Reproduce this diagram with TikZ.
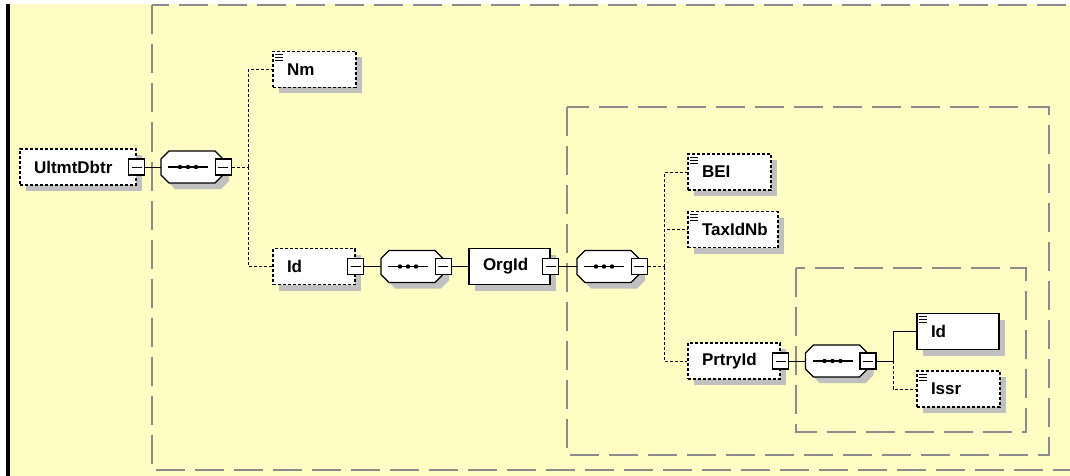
\documentclass[tikz,border=0pt]{standalone}
\usepackage{fontspec}
\setmainfont{Liberation Sans}
\usepackage{tikz}
\usetikzlibrary{shadows,calc}

\definecolor{schemabg}{RGB}{255,252,196}
\definecolor{grpgray}{RGB}{140,140,140}
\definecolor{shadowgray}{RGB}{192,192,192}

\begin{document}
\begin{tikzpicture}[
  x=0.5pt,
  y=-0.5pt,
  font=\bfseries\fontsize{8.5}{10}\selectfont,
  elem/.style={
    rectangle,
    draw=black,
    line width=0.6pt,
    fill=white,
    minimum height=18pt,
    inner xsep=7pt,
    inner ysep=0pt,
    text width=#1,
    align=left,
    drop shadow={
      shadow xshift=3pt,
      shadow yshift=-3pt,
      opacity=1,
      fill=shadowgray
    }
  },
  optelem/.style={
    elem=#1,
    dash pattern=on 1.5pt off 1pt
  },
  seq/.style={
    rectangle,
    minimum width=31pt,
    minimum height=16pt,
    inner sep=0pt
  },
  minusbox/.style={
    rectangle,
    draw=black,
    line width=0.6pt,
    fill=white,
    minimum size=8pt,
    inner sep=0pt,
    path picture={
      \draw[line width=0.5pt] ([xshift=1.5pt]path picture bounding box.west)
        -- ([xshift=-1.5pt]path picture bounding box.east);
    }
  },
  grp/.style={
    draw=grpgray,
    line width=1pt,
    dash pattern=on 14.5pt off 5pt
  },
  conn/.style={
    line width=0.5pt,
    draw=black
  },
  optconn/.style={
    conn,
    dash pattern=on 1.5pt off 1pt
  }
]

\useasboundingbox (0,0) rectangle (1070,476);
\clip (0,0) rectangle (1070,476);

\fill[white] (0,0) rectangle (1070,476);
\fill[schemabg] (10,4) rectangle (1070,476);
\fill[black] (6,4) rectangle (10,476);

% groups
\draw[grp] (151.5,5.5) rectangle (1100,469.5);
\draw[grp] (567,107) rectangle (1049,455);
\draw[grp] (795.5,268) rectangle (1026,432);

% UltmtDbtr
\node[optelem=44pt] (ud) at (78,167) {UltmtDbtr};
\node[minusbox] (udm) at (ud.east) {};
\node[seq] (s1) at (192,167) {};
\coordinate (j1) at (248,167);

\node[optelem=27.5pt] (nm) at (314.5,69.5) {Nm};
\node[optelem=27pt] (id) at (314,266.5) {Id};
\node[minusbox] (idm) at (id.east) {};
\node[seq] (s2) at (412,266.5) {};

% OrgId
\node[elem=26.5pt] (org) at (509.5,266.5) {OrgId};
\node[minusbox] (orgm) at (org.east) {};
\node[seq] (s3) at (608,266.5) {};
\coordinate (j2) at (664,266.5);

\node[optelem=27.5pt] (bei) at (729.5,172) {BEI};
\node[optelem=31pt] (tax) at (733,229.5) {TaxIdNb};
\node[optelem=32pt] (pid) at (734,361) {PrtryId};
\node[minusbox] (pidm) at (pid.east) {};
\node[seq] (s4) at (836.5,361) {};
\coordinate (j3) at (893,361);

\node[elem=27pt] (id2) at (958,331.5) {Id};
\node[optelem=27.5pt] (issr) at (958.5,389) {Issr};

% sequence compositors
\foreach \s in {s1,s2,s3,s4} {
  \begin{scope}[shift={(\s.center)}]
    \fill[shadowgray] (-17,-10) -- (29,-10) -- (37,-2) -- (37,14)
      -- (29,22) -- (-17,22) -- (-25,14) -- (-25,-2) -- cycle;
    \draw[line width=0.6pt, fill=white] (-23,-16) -- (23,-16) -- (31,-8)
      -- (31,8) -- (23,16) -- (-23,16) -- (-31,8) -- (-31,-8) -- cycle;
    \draw[line width=0.6pt] (-24,0) -- (16,0);
    \foreach \dx in {-12,-4,4}
      \fill (\dx,0) circle (1.1pt);
  \end{scope}
}
\node[minusbox] (s1m) at (s1.east) {};
\node[minusbox] (s2m) at (s2.east) {};
\node[minusbox] (s3m) at (s3.east) {};
\node[minusbox] (s4m) at (s4.east) {};

% simple-type icons
\foreach \e in {nm,bei,tax,id2,issr}
  \foreach \dy in {4,7,10}
    \draw[line width=0.5pt] ($(\e.north west)+(3,\dy)$) -- ++(8,0);

\draw[conn] (udm) -- (s1);
\draw[optconn] (s1m) -- (j1);
\draw[optconn] (j1) |- (nm);
\draw[optconn] (j1) |- (id);
\draw[conn] (idm) -- (s2);
\draw[conn] (s2m) -- (org);
\draw[conn] (orgm) -- (s3);
\draw[optconn] (s3m) -- (j2);
\draw[optconn] (j2) |- (bei);
\draw[optconn] (j2) |- (tax);
\draw[optconn] (j2) |- (pid);
\draw[conn] (pidm) -- (s4);
\draw[conn] (s4m) -- (j3);
\draw[conn] (j3) |- (id2);
\draw[optconn] (j3) |- (issr);

\end{tikzpicture}
\end{document}
